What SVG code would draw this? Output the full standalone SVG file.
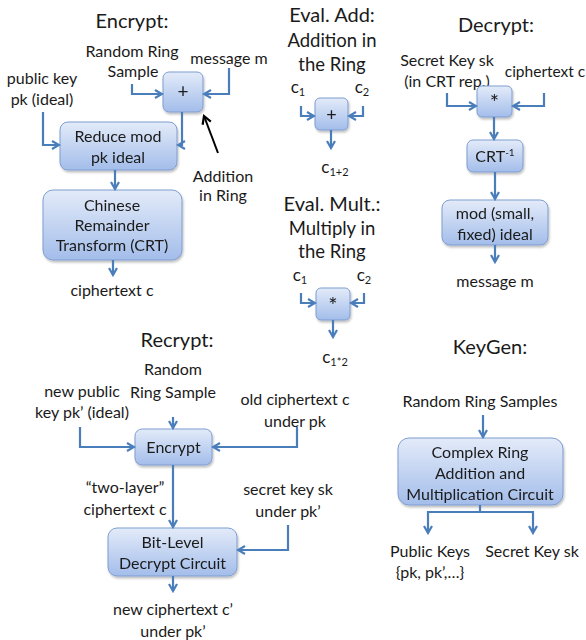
<svg xmlns="http://www.w3.org/2000/svg" width="586" height="640" viewBox="0 0 586 640">
<style>
  text { font-family: Lato, "Open Sans", "Liberation Sans", sans-serif; fill: #1a1a1a; text-anchor: middle; }
  .t { font-size: 20px; }
  .b { font-size: 16px; }
  .box { fill: url(#g); stroke: #7f9dd0; stroke-width: 1; }
  .c { fill: none; stroke: #4a7ebb; stroke-width: 2.2; marker-end: url(#ah); }
  .k { fill: none; stroke: #000; stroke-width: 2; marker-end: url(#ak); }
</style>
<defs>
  <linearGradient id="g" x1="0" y1="0" x2="0" y2="1">
    <stop offset="0" stop-color="#e3ebf9"/>
    <stop offset="1" stop-color="#a3bdea"/>
  </linearGradient>
  <filter id="sh" x="-10%" y="-10%" width="130%" height="140%">
    <feDropShadow dx="1" dy="2" stdDeviation="1.2" flood-color="#000" flood-opacity="0.25"/>
  </filter>
  <marker id="ah" viewBox="0 0 10 10" refX="8" refY="5" markerWidth="10" markerHeight="10" markerUnits="userSpaceOnUse" orient="auto">
    <path d="M1,1 L8,5 L1,9" fill="none" stroke="#4a7ebb" stroke-width="2.2"/>
  </marker>
  <marker id="ak" viewBox="0 0 10 10" refX="8" refY="5" markerWidth="11" markerHeight="11" markerUnits="userSpaceOnUse" orient="auto">
    <path d="M1,1 L8,5 L1,9" fill="none" stroke="#000" stroke-width="2"/>
  </marker>
</defs>

<!-- Titles and labels -->
<g id="labels">
  <text class="t" x="132" y="28">Encrypt:</text>
  <text class="b" x="132" y="57">Random Ring</text>
  <text class="b" x="133" y="77">Sample</text>
  <text class="b" x="229" y="64">message m</text>
  <text class="b" x="42" y="84">public key</text>
  <text class="b" x="42" y="105">pk (ideal)</text>
  <text class="b" x="223" y="182">Addition</text>
  <text class="b" x="223" y="201">in Ring</text>
  <text class="b" x="112" y="296">ciphertext c</text>

  <text class="t" x="332" y="22">Eval. Add:</text>
  <text class="t" x="332" y="47" style="font-size:18.5px">Addition in</text>
  <text class="t" x="332" y="71" style="font-size:18.5px">the Ring</text>
  <text class="b" x="298" y="93" style="font-size:17px">c<tspan font-size="11" dy="3">1</tspan></text>
  <text class="b" x="362" y="93" style="font-size:17px">c<tspan font-size="11" dy="3">2</tspan></text>
  <text class="b" x="335" y="173" style="font-size:17px">c<tspan font-size="11" dy="3">1+2</tspan></text>

  <text class="t" x="332" y="211">Eval. Mult.:</text>
  <text class="t" x="332" y="235" style="font-size:18.5px">Multiply in</text>
  <text class="t" x="332" y="258" style="font-size:18.5px">the Ring</text>
  <text class="b" x="300" y="281" style="font-size:17px">c<tspan font-size="11" dy="3">1</tspan></text>
  <text class="b" x="364" y="281" style="font-size:17px">c<tspan font-size="11" dy="3">2</tspan></text>
  <text class="b" x="335" y="363" style="font-size:17px">c<tspan font-size="11" dy="3">1*2</tspan></text>

  <text class="t" x="496" y="32">Decrypt:</text>
  <text class="b" x="447" y="66">Secret Key sk</text>
  <text class="b" x="447" y="87">(in CRT rep.)</text>
  <text class="b" x="545" y="77" style="font-size:15.5px">ciphertext c</text>
  <text class="b" x="495" y="287">message m</text>

  <text class="t" x="177" y="347">Recrypt:</text>
  <text class="b" x="173" y="375">Random</text>
  <text class="b" x="173" y="398">Ring Sample</text>
  <text class="b" x="82" y="397">new public</text>
  <text class="b" x="82" y="418">key pk’ (ideal)</text>
  <text class="b" x="295" y="405">old ciphertext c</text>
  <text class="b" x="295" y="427">under pk</text>
  <text class="b" x="125" y="493">“two-layer”</text>
  <text class="b" x="125" y="515">ciphertext c</text>
  <text class="b" x="288" y="495">secret key sk</text>
  <text class="b" x="288" y="517">under pk’</text>
  <text class="b" x="173" y="615">new ciphertext c’</text>
  <text class="b" x="173" y="637">under pk’</text>

  <text class="t" x="490" y="354">KeyGen:</text>
  <text class="b" x="480" y="407">Random Ring Samples</text>
  <text class="b" x="430" y="557">Public Keys</text>
  <text class="b" x="430" y="578">{pk, pk’,…}</text>
  <text class="b" x="532" y="557">Secret Key sk</text>
</g>

<!-- Nodes -->
<g id="enc-add" filter="url(#sh)"><rect class="box" x="163" y="72" width="40" height="40" rx="6"/><text class="b" x="183" y="98" style="font-size:19px">+</text></g>
<g id="enc-reduce" filter="url(#sh)"><rect class="box" x="60" y="122" width="117" height="48" rx="8"/><text class="b" x="118" y="142">Reduce mod</text><text class="b" x="118" y="163">pk ideal</text></g>
<g id="enc-crt" filter="url(#sh)"><rect class="box" x="43" y="190" width="139" height="70" rx="10"/><text class="b" x="112" y="211">Chinese</text><text class="b" x="112" y="231">Remainder</text><text class="b" x="112" y="251">Transform (CRT)</text></g>

<g id="eval-add" filter="url(#sh)"><rect class="box" x="315" y="98" width="33" height="32" rx="5"/><text class="b" x="331.5" y="121" style="font-size:18px">+</text></g>
<g id="eval-mult" filter="url(#sh)"><rect class="box" x="316" y="288" width="34" height="32" rx="5"/><text class="b" x="333" y="313" style="font-size:22px">*</text></g>

<g id="dec-mult" filter="url(#sh)"><rect class="box" x="477" y="86" width="35" height="31" rx="5"/><text class="b" x="494.5" y="110" style="font-size:22px">*</text></g>
<g id="dec-crtinv" filter="url(#sh)"><rect class="box" x="467" y="140" width="56" height="32" rx="6"/><text class="b" x="495" y="162">CRT<tspan font-size="10" dy="-6">-1</tspan></text></g>
<g id="dec-mod" filter="url(#sh)"><rect class="box" x="442" y="200" width="106" height="45" rx="8"/><text class="b" x="495" y="219">mod (small,</text><text class="b" x="495" y="240">fixed) ideal</text></g>

<g id="rec-encrypt" filter="url(#sh)"><rect class="box" x="135" y="429" width="77" height="36" rx="7"/><text class="b" x="173.5" y="453">Encrypt</text></g>
<g id="rec-bitlevel" filter="url(#sh)"><rect class="box" x="108" y="528" width="129" height="48" rx="9"/><text class="b" x="172.5" y="548">Bit-Level</text><text class="b" x="172.5" y="569">Decrypt Circuit</text></g>

<g id="keygen-circuit" filter="url(#sh)"><rect class="box" x="398" y="438" width="165" height="67" rx="11"/><text class="b" x="480" y="458">Complex Ring</text><text class="b" x="480" y="479">Addition and</text><text class="b" x="480" y="500">Multiplication Circuit</text></g>

<!-- Connectors -->
<g id="connectors">
  <path class="c" d="M132,84 V94 H162"/>
  <path class="c" d="M229,68 V94 H204"/>
  <path class="c" d="M182,112 V145 H178"/>
  <path class="c" d="M43,112 V145 H59"/>
  <path class="c" d="M115,170 V189"/>
  <path class="c" d="M113,260 V275"/>
  <path class="k" d="M218,153 L204,116"/>

  <path class="c" d="M301,106 V116 H314"/>
  <path class="c" d="M363,106 V116 H349"/>
  <path class="c" d="M331,130 V148"/>

  <path class="c" d="M301,293 V303 H315"/>
  <path class="c" d="M364,293 V303 H351"/>
  <path class="c" d="M333,320 V337"/>

  <path class="c" d="M447,93 V106 H476"/>
  <path class="c" d="M544,93 V106 H513"/>
  <path class="c" d="M494,117 V139"/>
  <path class="c" d="M495,172 V199"/>
  <path class="c" d="M495,245 V262"/>

  <path class="c" d="M173,417 V428"/>
  <path class="c" d="M80,427 V447 H134"/>
  <path class="c" d="M297,427 V447 H213"/>
  <path class="c" d="M173,465 V527"/>
  <path class="c" d="M288,525 V550 H238"/>
  <path class="c" d="M173,576 V591"/>

  <path class="c" d="M483,415 V437"/>
  <path class="c" d="M480,505 V512 H428 V533"/>
  <path class="c" d="M480,512 H533 V533"/>
</g>
</svg>
